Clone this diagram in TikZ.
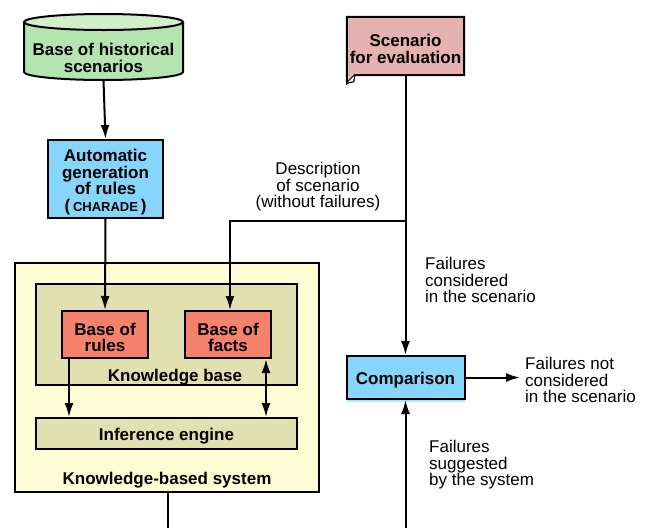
\documentclass[tikz,border=0pt]{standalone}
\usepackage{fontspec}
\setmainfont{Liberation Sans}
\usetikzlibrary{arrows.meta}
\definecolor{cylgreen}{HTML}{B4E4B0}
\definecolor{cyltop}{HTML}{D2EFCC}
\definecolor{skyblue}{HTML}{86D5FB}
\definecolor{rosepink}{HTML}{E5B1B1}
\definecolor{salmon}{HTML}{F5826C}
\definecolor{paleyellow}{HTML}{FDFDD6}
\definecolor{olive}{HTML}{E1E0B0}
\tikzset{
  box/.style={draw=black, line width=2pt, rectangle, align=center, inner sep=0pt,
    font=\fontsize{17}{15}\selectfont\bfseries},
  lbl/.style={align=left, inner sep=0pt, font=\fontsize{17}{16.5}\selectfont},
  clbl/.style={align=center, inner sep=0pt, font=\fontsize{17}{16.5}\selectfont},
  btxt/.style={inner sep=0pt, font=\fontsize{17}{17.5}\selectfont\bfseries, align=center},
  conn/.style={line width=2pt},
  arr/.style={conn, -{Latex[length=14pt,width=9pt]}},
  darr/.style={conn, {Latex[length=14pt,width=9pt]}-{Latex[length=14pt,width=9pt]}}
}
\begin{document}
\begin{tikzpicture}[x=1pt, y=-1pt]
\useasboundingbox[fill=white] (0,0) rectangle (646,528);

% historical scenario base (cylinder)
\fill[cylgreen] (24,22) -- (24,72) arc[start angle=180, end angle=0, x radius=79.5, y radius=8]
  -- (183,22) -- cycle;
\draw[line width=2pt] (24,22) -- (24,72) arc[start angle=180, end angle=0, x radius=79.5, y radius=8]
  -- (183,22);
\draw[line width=2pt, fill=cyltop] (103.5,22) ellipse[x radius=79.5, y radius=8];
\node[btxt] (hist) at (103.5,58) {Base of historical\\scenarios};
\coordinate (histbot) at (103.5,80);

% rule generation
\node[box, fill=skyblue, minimum width=115, minimum height=78] (auto) at (105.5,179) {};
\node[btxt, font=\fontsize{17}{16.7}\selectfont\bfseries] (autotxt) at (105.5,182)
  {Automatic\\generation\\of rules\\(\,{\fontsize{13}{13}\selectfont CHARADE}\,)};

% knowledge-based system
\node[box, fill=paleyellow, minimum width=304, minimum height=229] (kbs) at (167,377.5) {};
\node[btxt] (kbslbl) at (167,480) {Knowledge-based system};
\node[box, fill=olive, minimum width=261, minimum height=101] (kb) at (166.5,334.5) {};
\node[btxt] (kblbl) at (175,377) {Knowledge base};
\node[box, fill=salmon, minimum width=86, minimum height=47] (rules) at (105,334.5) {};
\node[btxt, font=\fontsize{17}{16}\selectfont\bfseries] (rulestxt) at (105,337) {Base of\\rules};
\node[box, fill=salmon, minimum width=86, minimum height=47] (facts) at (228,334.5) {};
\node[btxt, font=\fontsize{17}{16}\selectfont\bfseries] (factstxt) at (228,337) {Base of\\facts};
\node[box, fill=olive, minimum width=261, minimum height=31] (inf) at (166.5,433.5) {};
\node[btxt] (inftxt) at (166.5,436) {Inference engine};

% scenario to evaluate (note with folded corner)
\node[inner sep=0pt, minimum width=117, minimum height=58] (scen) at (405.5,46) {};
\fill[rosepink] (scen.north west) -- (scen.north east) -- (scen.south east)
  -- ([xshift=8pt]scen.south west) -- ([yshift=-8pt]scen.south west) -- cycle;
\draw[line width=2pt, line join=miter] (scen.north west) -- (scen.north east) -- (scen.south east)
  -- ([xshift=8pt]scen.south west) -- ([yshift=-8pt]scen.south west) -- cycle;
\draw[line width=1.2pt, fill=white] ([yshift=-8pt]scen.south west) -- ([xshift=7pt,yshift=-6.5pt]scen.south west)
  -- ([xshift=8pt]scen.south west);
\node[btxt] (scentxt) at (405.5,49) {Scenario\\for evaluation};

% comparison
\fill[skyblue!65] (347,359) rectangle (465,402);
\node[box, fill=skyblue, minimum width=118, minimum height=43] (comp) at (405.5,377.5) {};
\node[btxt] (comptxt) at (405.5,380) {Comparison};

% connectors
\draw[arr] (histbot) -- (auto.north);
\draw[arr] (auto.south) -- (rules.north);
\draw[arr] ([xshift=-36pt]rules.south) coordinate (rfoot) -- (rfoot |- inf.north);
\draw[darr] ([xshift=38pt]facts.south) coordinate (ffoot) -- (ffoot |- inf.north);
\coordinate (branch) at (405.5,221);
\draw[arr] (scen.south) -- (comp.north);
\draw[arr] (branch) -| ([xshift=2pt]facts.north);
\coordinate (outend) at (520,377.5);
\draw[arr] (comp.east) -- (outend);
\coordinate (botright) at (405.5,530);
\draw[arr] (botright) -- (comp.south);
\coordinate (botleft) at (168,530);
\draw[conn] (kbs.south -| botleft) -- (botleft);

% labels
\node[clbl] (desc) at (318,187) {Description\\of scenario\\(without failures)};
\node[lbl, anchor=west] (fcons) at (425,280) {Failures\\considered\\in the scenario};
\node[lbl, anchor=west] (fnot) at (525,380) {Failures not\\considered\\in the scenario};
\node[lbl, anchor=west] (fsugg) at (429,465) {Failures\\suggested\\by the system};
\end{tikzpicture}
\end{document}
